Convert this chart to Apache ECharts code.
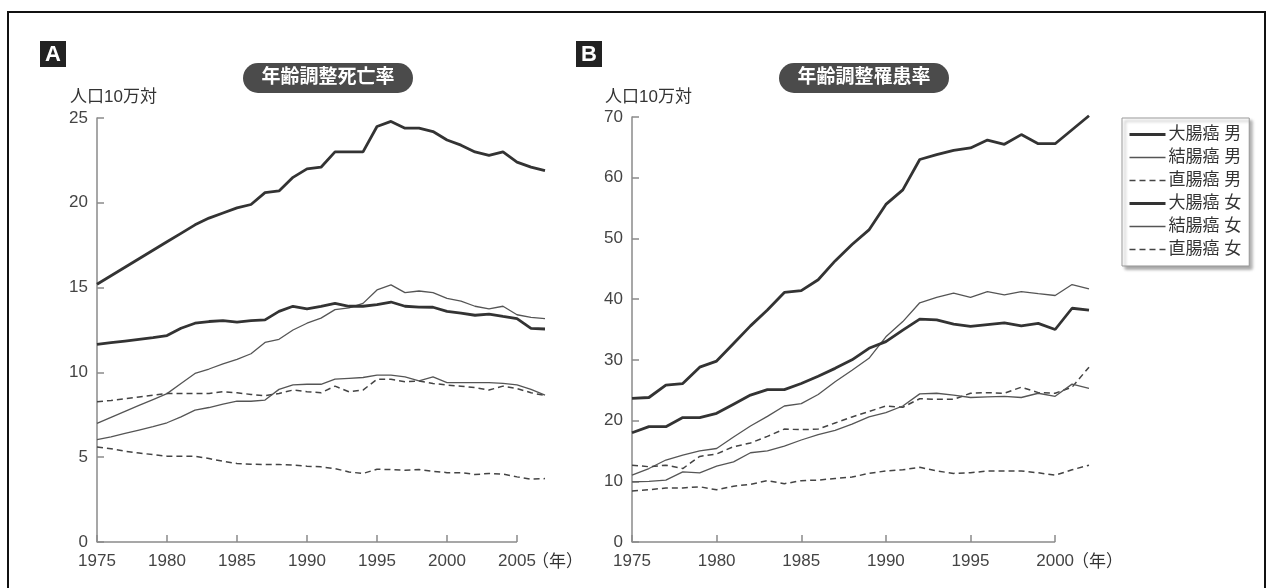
<!DOCTYPE html>
<html>
<head>
<meta charset="utf-8">
<title>大腸癌 年齢調整死亡率・罹患率</title>
<script src="https://cdn.jsdelivr.net/npm/echarts@6.0.0/dist/echarts.min.js"></script>
<style>
  html, body { margin: 0; padding: 0; background: #fff; }
  #chart { width: 1272px; height: 588px; }
</style>
</head>
<body>
<div id="chart"></div>
<script>
// 年
const yearsA = [1975, 1976, 1977, 1978, 1979, 1980, 1981, 1982, 1983, 1984, 1985,
  1986, 1987, 1988, 1989, 1990, 1991, 1992, 1993, 1994, 1995, 1996, 1997, 1998,
  1999, 2000, 2001, 2002, 2003, 2004, 2005, 2006, 2007];
const yearsB = [1975, 1976, 1977, 1978, 1979, 1980, 1981, 1982, 1983, 1984, 1985,
  1986, 1987, 1988, 1989, 1990, 1991, 1992, 1993, 1994, 1995, 1996, 1997, 1998,
  1999, 2000, 2001, 2002];
const xTicksA = [1975, 1980, 1985, 1990, 1995, 2000, 2005];
const xTicksB = [1975, 1980, 1985, 1990, 1995, 2000];

const seriesNames = ["大腸癌 男", "結腸癌 男", "直腸癌 男", "大腸癌 女", "結腸癌 女", "直腸癌 女"];

// A 年齢調整死亡率 (人口10万対)
const deathColorectalM = [15.2, 15.7, 16.2, 16.7, 17.2, 17.7, 18.2, 18.7, 19.1, 19.4, 19.7,
  19.9, 20.6, 20.7, 21.5, 22.0, 22.1, 23.0, 23.0, 23.0, 24.5, 24.8, 24.4, 24.4,
  24.2, 23.7, 23.4, 23.0, 22.8, 23.0, 22.4, 22.1, 21.9];
const deathColonM = [7.0, 7.35, 7.7, 8.05, 8.4, 8.75, 9.35, 9.94, 10.2, 10.5, 10.77,
  11.1, 11.77, 11.95, 12.5, 12.9, 13.2, 13.7, 13.8, 14.07, 14.86, 15.16, 14.7, 14.8,
  14.7, 14.37, 14.2, 13.9, 13.75, 13.9, 13.4, 13.25, 13.17];
const deathRectumM = [8.27, 8.35, 8.45, 8.55, 8.65, 8.76, 8.76, 8.76, 8.76, 8.86, 8.8,
  8.7, 8.62, 8.76, 8.96, 8.86, 8.8, 9.19, 8.86, 8.96, 9.59, 9.59, 9.45, 9.49,
  9.35, 9.25, 9.19, 9.1, 8.96, 9.19, 9.05, 8.8, 8.64];
const deathColorectalF = [11.65, 11.75, 11.85, 11.95, 12.05, 12.17, 12.6, 12.9, 13.0, 13.05, 12.97,
  13.05, 13.1, 13.6, 13.9, 13.75, 13.9, 14.07, 13.9, 13.9, 14.0, 14.15, 13.9, 13.85,
  13.84, 13.6, 13.5, 13.37, 13.44, 13.3, 13.17, 12.6, 12.56];
const deathColonF = [6.04, 6.2, 6.4, 6.6, 6.8, 7.03, 7.38, 7.78, 7.93, 8.13, 8.3,
  8.3, 8.37, 9.0, 9.27, 9.3, 9.3, 9.6, 9.65, 9.7, 9.84, 9.84, 9.74, 9.5,
  9.74, 9.4, 9.4, 9.4, 9.4, 9.35, 9.27, 9.0, 8.66];
const deathRectumF = [5.6, 5.5, 5.35, 5.25, 5.15, 5.06, 5.06, 5.06, 4.92, 4.76, 4.63,
  4.59, 4.57, 4.57, 4.53, 4.47, 4.43, 4.33, 4.13, 4.04, 4.29, 4.27, 4.23, 4.27,
  4.17, 4.09, 4.09, 3.98, 4.04, 4.0, 3.84, 3.7, 3.74];

// B 年齢調整罹患率 (人口10万対)
const incColorectalM = [23.65, 23.8, 25.85, 26.1, 28.8, 29.8, 32.7, 35.6, 38.2, 41.1, 41.4,
  43.2, 46.3, 49.0, 51.4, 55.6, 58.0, 63.0, 63.8, 64.5, 64.9, 66.2, 65.5, 67.1,
  65.6, 65.6, 67.9, 70.2];
const incColonM = [11.0, 12.1, 13.5, 14.3, 15.0, 15.4, 17.3, 19.1, 20.7, 22.4, 22.8,
  24.3, 26.4, 28.3, 30.25, 33.8, 36.3, 39.4, 40.3, 41.0, 40.3, 41.25, 40.7, 41.25,
  40.9, 40.6, 42.4, 41.7];
const incRectumM = [12.65, 12.4, 12.65, 12.1, 14.1, 14.5, 15.7, 16.3, 17.4, 18.6, 18.5,
  18.6, 19.6, 20.6, 21.5, 22.4, 22.2, 23.6, 23.5, 23.5, 24.5, 24.6, 24.5, 25.5,
  24.6, 24.5, 25.5, 28.8];
const incColorectalF = [18.0, 19.0, 19.0, 20.5, 20.5, 21.2, 22.7, 24.2, 25.1, 25.1, 26.1,
  27.3, 28.6, 30.0, 31.9, 33.0, 34.9, 36.7, 36.6, 35.9, 35.5, 35.8, 36.1, 35.6,
  36.0, 35.0, 38.5, 38.2];
const incColonF = [9.9, 10.0, 10.2, 11.55, 11.4, 12.5, 13.2, 14.7, 15.0, 15.8, 16.8,
  17.7, 18.4, 19.4, 20.6, 21.3, 22.4, 24.4, 24.5, 24.2, 23.8, 23.9, 24.0, 23.8,
  24.5, 24.0, 26.0, 25.3];
const incRectumF = [8.4, 8.6, 8.9, 8.9, 9.1, 8.6, 9.2, 9.5, 10.1, 9.6, 10.1,
  10.2, 10.45, 10.7, 11.3, 11.7, 11.9, 12.3, 11.7, 11.3, 11.4, 11.7, 11.7, 11.7,
  11.4, 11.0, 11.9, 12.65];

const FONT = '"Liberation Sans", "Noto Sans CJK JP", sans-serif';
const AXIS_COLOR = "#8a8a8a";

// 線の種類 (太線 / 細線 / 破線)
const lineStyles = [
  { color: "#333", width: 2.8, type: "solid" },
  { color: "#555", width: 1.3, type: "solid" },
  { color: "#444", width: 1.5, type: [6, 4] },
  { color: "#333", width: 2.8, type: "solid" },
  { color: "#555", width: 1.3, type: "solid" },
  { color: "#444", width: 1.5, type: [6, 4] }
];

const pairs = (years, values) => years.map((y, i) => [y, values[i]]);

const panelA = [deathColorectalM, deathColonM, deathRectumM, deathColorectalF, deathColonF, deathRectumF];
const panelB = [incColorectalM, incColonM, incRectumM, incColorectalF, incColonF, incRectumF];

// x軸の線は最後の目盛りまで (A: 2005, B: 2000)
const baseLine = (ticks) => ({
  symbol: "none",
  silent: true,
  label: { show: false },
  lineStyle: { color: AXIS_COLOR, width: 1.5, type: "solid" },
  data: [[{ coord: [ticks[0], 0] }, { coord: [ticks[ticks.length - 1], 0] }]]
});

const makeSeries = (values, years, ticks, idx) =>
  values.map((v, i) => ({
    name: seriesNames[i],
    type: "line",
    xAxisIndex: idx,
    yAxisIndex: idx,
    symbol: "none",
    silent: true,
    clip: false,
    itemStyle: { color: lineStyles[i].color },
    lineStyle: lineStyles[i],
    markLine: i === 0 ? baseLine(ticks) : undefined,
    data: pairs(years, v)
  }));

const xAxisBase = (grid, min, max, ticks) => ({
  type: "value",
  gridIndex: grid,
  min: min,
  max: max,
  splitLine: { show: false },
  axisLine: { show: false },
  axisTick: { show: true, inside: true, length: 7, customValues: ticks, lineStyle: { color: AXIS_COLOR, width: 1.5 } },
  axisLabel: {
    customValues: ticks,
    formatter: (v) => String(v),
    margin: 11,
    color: "#444",
    fontSize: 17,
    fontFamily: FONT
  }
});

const yAxisBase = (grid, max, interval) => ({
  type: "value",
  gridIndex: grid,
  min: 0,
  max: max,
  interval: interval,
  splitLine: { show: false },
  axisLine: { show: true, lineStyle: { color: AXIS_COLOR, width: 1.5 } },
  axisTick: { show: true, inside: true, length: 7, lineStyle: { color: AXIS_COLOR, width: 1.5 } },
  axisLabel: { margin: 9, color: "#444", fontSize: 17, fontFamily: FONT }
});

const pill = (cx, text) => [
  {
    type: "rect",
    shape: { x: cx - 85, y: 63, width: 170, height: 30, r: 15 },
    style: { fill: "#4b4b4b" }
  },
  {
    type: "text",
    x: cx,
    y: 78,
    style: { text: text, fill: "#fff", font: "bold 19px " + FONT, align: "center", verticalAlign: "middle" }
  }
];

const letterBox = (x, text) => [
  { type: "rect", shape: { x: x, y: 41, width: 26, height: 26 }, style: { fill: "#222" } },
  {
    type: "text",
    x: x + 13,
    y: 54.5,
    style: { text: text, fill: "#fff", font: "bold 22px " + FONT, align: "center", verticalAlign: "middle" }
  }
];

const label = (x, y, text) => ({
  type: "text",
  x: x,
  y: y,
  style: { text: text, fill: "#333", font: "17px " + FONT, align: "left", verticalAlign: "middle" }
});

const chart = echarts.init(document.getElementById("chart"));
chart.setOption({
  animation: false,
  backgroundColor: "#fff",
  grid: [
    { left: 97, right: 727, top: 118, bottom: 46 },
    { left: 632, right: 183, top: 117, bottom: 46 }
  ],
  xAxis: [xAxisBase(0, 1975, 2007, xTicksA), xAxisBase(1, 1975, 2002, xTicksB)],
  yAxis: [yAxisBase(0, 25, 5), yAxisBase(1, 70, 10)],
  legend: {
    data: seriesNames.map((n, i) => ({
      name: n,
      lineStyle: { width: lineStyles[i].width > 2 ? 3 : 1.3 }
    })),
    orient: "vertical",
    left: 1122,
    top: 118,
    itemWidth: 36,
    itemHeight: 14,
    itemGap: 6,
    padding: [8, 8, 8, 6],
    backgroundColor: "#fff",
    borderColor: "#999",
    borderWidth: 1,
    shadowColor: "rgba(0,0,0,0.35)",
    shadowBlur: 3,
    shadowOffsetX: 3,
    shadowOffsetY: 3,
    selectedMode: false,
    itemStyle: { opacity: 0 },
    textStyle: { color: "#333", fontSize: 17, fontFamily: FONT, padding: [0, 0, 0, -2] }
  },
  graphic: [
    {
      type: "rect",
      shape: { x: 8, y: 12, width: 1257, height: 600 },
      style: { fill: "none", stroke: "#111", lineWidth: 2 }
    },
    ...letterBox(40, "A"),
    ...letterBox(576, "B"),
    ...pill(328, "年齢調整死亡率"),
    ...pill(864, "年齢調整罹患率"),
    label(70, 97, "人口10万対"),
    label(605, 97, "人口10万対"),
    label(532, 562, "（年）"),
    label(1072, 562, "（年）")
  ],
  series: [...makeSeries(panelA, yearsA, xTicksA, 0), ...makeSeries(panelB, yearsB, xTicksB, 1)]
});
</script>
</body>
</html>
